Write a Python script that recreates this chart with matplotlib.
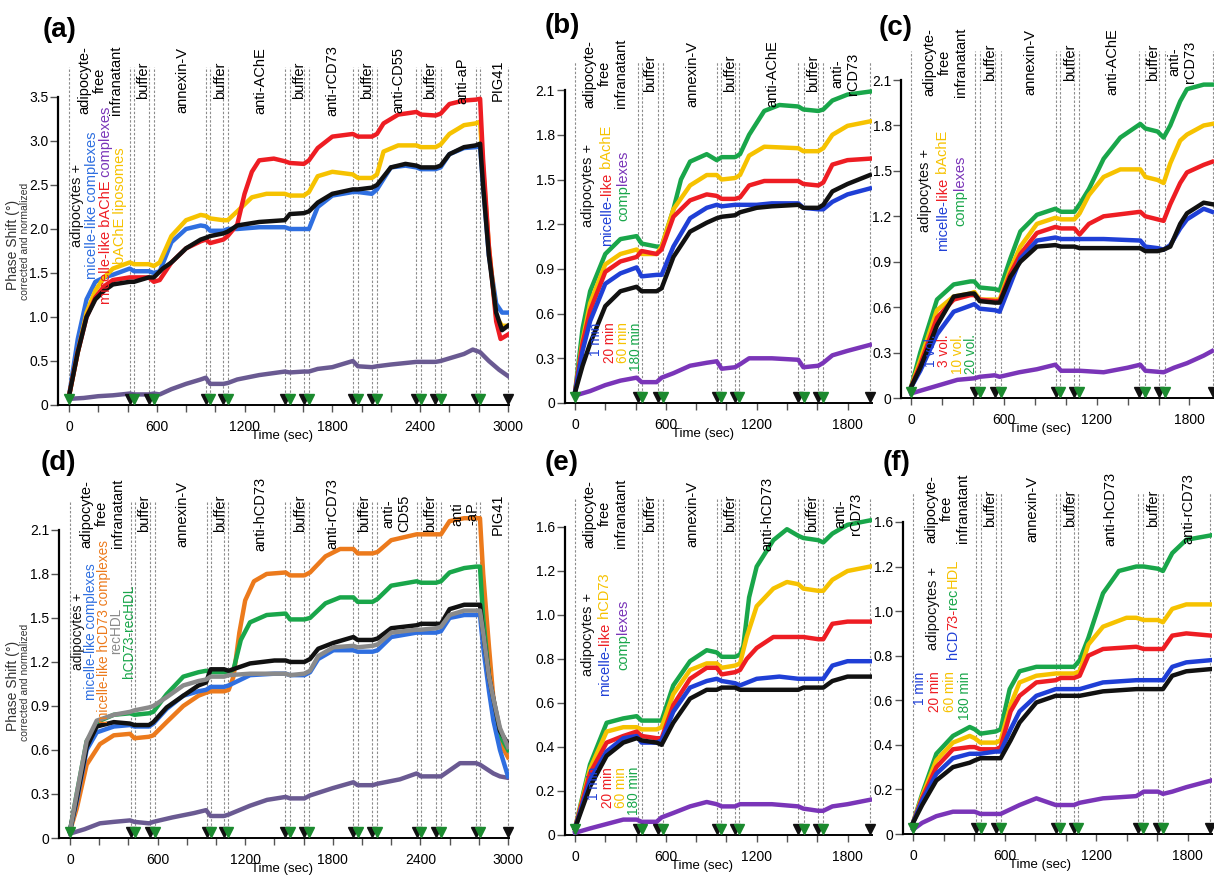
import matplotlib
matplotlib.use("Agg")
import matplotlib.pyplot as plt
from matplotlib.ticker import MultipleLocator
from matplotlib.transforms import offset_copy

plt.rcParams["font.family"] = ["Liberation Sans", "DejaVu Sans"]

# colours
BLACK = "#111111"
BLUE_A = "#2f6fe0"
BLUE = "#1f3fd6"
RED = "#ee1d23"
GOLD = "#f6c200"
GREEN = "#19a64a"
PURPLE_A = "#6a5a92"
PURPLE = "#7a35b8"
ORANGE = "#ec7a1c"
GRAY = "#8a8a8a"
TRI_GREEN = "#1b8a2e"

# injection times (s): black and green arrowheads
long_black = [415, 545, 935, 1055, 1475, 1605, 1940, 2070, 2375, 2505, 2780, 3000]
long_green = [0, 445, 580, 965, 1085, 1510, 1640, 1975, 2105, 2405, 2540, 2810]
short_black = [415, 545, 935, 1055, 1475, 1605, 1950]
short_green = [0, 445, 580, 965, 1085, 1510, 1640]

# y tick labels
ticks_05 = [0, 0.5, 1.0, 1.5, 2.0, 2.5, 3.0, 3.5]
labels_05 = ["0", "0.5", "1.0", "1.5", "2.0", "2.5", "3.0", "3.5"]
ticks_03 = [0, 0.3, 0.6, 0.9, 1.2, 1.5, 1.8, 2.1]
labels_03 = ["0", "0.3", "0.6", "0.9", "1.2", "1.5", "1.8", "2.1"]
ticks_02 = [0, 0.2, 0.4, 0.6, 0.8, 1.0, 1.2, 1.4]
labels_02 = ["0", "0.2", "0.4", "0.6", "0.8", "1.0", "1.2", "1.6"]

# ---- panel (a) ----
a_blue = [(0, 0.10), (60, 0.75), (120, 1.20), (180, 1.40), (240, 1.45), (300, 1.48), (415, 1.55), (445, 1.52),
          (545, 1.52), (580, 1.50), (620, 1.52), (700, 1.85), (800, 2.00), (900, 2.04), (935, 2.03), (965, 1.98),
          (1055, 1.98), (1085, 2.00), (1150, 2.00), (1300, 2.02), (1475, 2.02), (1510, 2.00), (1605, 2.00),
          (1640, 2.00), (1700, 2.25), (1800, 2.38), (1940, 2.42), (1975, 2.42), (2070, 2.40), (2105, 2.45),
          (2200, 2.70), (2300, 2.72), (2375, 2.70), (2405, 2.68), (2505, 2.68), (2540, 2.70), (2600, 2.85),
          (2700, 2.92), (2780, 2.93), (2810, 2.94), (2830, 2.50), (2870, 1.70), (2920, 1.15), (2960, 1.05),
          (3000, 1.05)]
a_gold = [(0, 0.10), (60, 0.60), (120, 1.05), (180, 1.30), (240, 1.45), (300, 1.55), (415, 1.62), (445, 1.60),
          (545, 1.60), (580, 1.58), (620, 1.62), (700, 1.92), (800, 2.10), (900, 2.16), (935, 2.15), (965, 2.12),
          (1055, 2.10), (1085, 2.10), (1150, 2.20), (1250, 2.36), (1350, 2.40), (1475, 2.40), (1510, 2.38),
          (1605, 2.38), (1640, 2.42), (1700, 2.60), (1800, 2.65), (1940, 2.62), (1975, 2.58), (2070, 2.58),
          (2105, 2.62), (2150, 2.88), (2250, 2.95), (2375, 2.95), (2405, 2.93), (2505, 2.93), (2540, 2.96),
          (2600, 3.08), (2700, 3.18), (2780, 3.20), (2810, 3.22), (2830, 2.70), (2870, 1.80), (2920, 1.00),
          (2960, 0.90), (3000, 0.90)]
a_red = [(0, 0.10), (60, 0.60), (120, 1.00), (180, 1.22), (240, 1.35), (300, 1.42), (415, 1.45), (445, 1.45),
         (545, 1.45), (580, 1.40), (620, 1.42), (700, 1.62), (800, 1.78), (900, 1.86), (935, 1.88), (965, 1.84),
         (1055, 1.88), (1085, 1.92), (1150, 2.05), (1200, 2.40), (1250, 2.65), (1300, 2.78), (1400, 2.80),
         (1475, 2.77), (1510, 2.75), (1605, 2.74), (1640, 2.78), (1700, 2.92), (1800, 3.05), (1940, 3.08),
         (1975, 3.05), (2070, 3.05), (2105, 3.08), (2150, 3.20), (2250, 3.30), (2375, 3.33), (2405, 3.30),
         (2505, 3.29), (2540, 3.31), (2600, 3.42), (2700, 3.46), (2780, 3.47), (2810, 3.48), (2830, 2.80),
         (2870, 1.80), (2920, 0.95), (2950, 0.75), (3000, 0.80)]
a_black = [(0, 0.10), (60, 0.60), (120, 1.00), (180, 1.20), (240, 1.30), (300, 1.37), (415, 1.40), (445, 1.40),
           (545, 1.45), (580, 1.45), (640, 1.55), (700, 1.62), (800, 1.78), (900, 1.88), (935, 1.90), (965, 1.92),
           (1055, 1.95), (1085, 1.97), (1150, 2.04), (1300, 2.08), (1475, 2.10), (1510, 2.17), (1605, 2.18),
           (1640, 2.20), (1700, 2.30), (1800, 2.40), (1940, 2.45), (1975, 2.45), (2070, 2.47), (2105, 2.50),
           (2200, 2.70), (2300, 2.74), (2375, 2.72), (2405, 2.70), (2505, 2.70), (2540, 2.72), (2600, 2.85),
           (2700, 2.93), (2780, 2.95), (2810, 2.97), (2830, 2.50), (2870, 1.70), (2920, 1.05), (2960, 0.85),
           (3000, 0.90)]
a_purple = [(0, 0.07), (100, 0.08), (200, 0.10), (300, 0.11), (415, 0.13), (445, 0.12), (545, 0.12), (580, 0.13),
            (620, 0.12), (700, 0.18), (800, 0.24), (900, 0.29), (935, 0.31), (965, 0.24), (1055, 0.24),
            (1085, 0.25), (1150, 0.29), (1300, 0.34), (1475, 0.38), (1510, 0.37), (1605, 0.38), (1640, 0.38),
            (1700, 0.41), (1800, 0.43), (1940, 0.50), (1975, 0.44), (2070, 0.43), (2105, 0.44), (2200, 0.46),
            (2375, 0.49), (2405, 0.49), (2505, 0.49), (2540, 0.50), (2600, 0.53), (2700, 0.58), (2760, 0.63),
            (2810, 0.60), (2870, 0.50), (2940, 0.40), (3000, 0.33)]

# ---- panel (b) ----
b_black = [(0, 0.07), (50, 0.25), (100, 0.40), (200, 0.65), (300, 0.75), (407, 0.78), (440, 0.75), (539, 0.75),
           (572, 0.77), (650, 0.98), (760, 1.15), (870, 1.21), (936, 1.24), (969, 1.25), (1057, 1.26),
           (1090, 1.28), (1200, 1.31), (1300, 1.32), (1475, 1.33), (1508, 1.31), (1607, 1.31), (1640, 1.33),
           (1700, 1.42), (1800, 1.47), (1948, 1.53)]
b_blue = [(0, 0.07), (50, 0.35), (100, 0.55), (200, 0.80), (300, 0.87), (407, 0.91), (440, 0.85), (539, 0.86),
          (572, 0.86), (650, 1.05), (760, 1.24), (870, 1.31), (936, 1.33), (969, 1.32), (1057, 1.33),
          (1090, 1.33), (1200, 1.33), (1300, 1.34), (1475, 1.34), (1508, 1.31), (1607, 1.30), (1640, 1.30),
          (1700, 1.35), (1800, 1.40), (1948, 1.44)]
b_red = [(0, 0.07), (50, 0.40), (100, 0.62), (200, 0.88), (300, 0.95), (407, 0.98), (440, 1.02), (539, 1.00),
         (572, 1.03), (650, 1.25), (760, 1.36), (870, 1.40), (936, 1.39), (969, 1.37), (1057, 1.37), (1090, 1.38),
         (1150, 1.46), (1250, 1.49), (1475, 1.49), (1508, 1.47), (1607, 1.46), (1640, 1.48), (1700, 1.60),
         (1800, 1.63), (1948, 1.64)]
b_gold = [(0, 0.07), (50, 0.42), (100, 0.67), (200, 0.93), (300, 1.00), (407, 1.03), (440, 1.00), (539, 1.00),
          (572, 1.05), (650, 1.30), (760, 1.46), (870, 1.53), (936, 1.53), (969, 1.50), (1057, 1.51),
          (1090, 1.53), (1150, 1.66), (1250, 1.72), (1475, 1.71), (1508, 1.69), (1607, 1.69), (1640, 1.71),
          (1700, 1.80), (1800, 1.86), (1948, 1.89)]
b_green = [(0, 0.07), (50, 0.50), (100, 0.75), (200, 1.00), (300, 1.10), (407, 1.12), (440, 1.07), (539, 1.05),
           (572, 1.05), (650, 1.30), (700, 1.50), (760, 1.62), (870, 1.67), (936, 1.63), (969, 1.65),
           (1057, 1.65), (1090, 1.67), (1150, 1.80), (1250, 1.96), (1350, 2.00), (1475, 1.99), (1508, 1.97),
           (1607, 1.96), (1640, 1.97), (1700, 2.03), (1800, 2.07), (1948, 2.09)]
b_purple = [(0, 0.05), (100, 0.08), (200, 0.12), (300, 0.15), (407, 0.17), (440, 0.14), (539, 0.14), (572, 0.17),
            (650, 0.20), (760, 0.25), (870, 0.27), (936, 0.28), (969, 0.23), (1057, 0.24), (1090, 0.26),
            (1150, 0.30), (1300, 0.30), (1475, 0.29), (1508, 0.24), (1607, 0.25), (1640, 0.27), (1700, 0.32),
            (1800, 0.35), (1948, 0.39)]

# ---- panel (c) ----
c_black = [(0, 0.07), (60, 0.20), (168, 0.48), (276, 0.67), (384, 0.69), (409, 0.69), (444, 0.64), (541, 0.63),
           (573, 0.63), (642, 0.80), (707, 0.90), (814, 1.00), (933, 1.01), (970, 1.00), (1056, 1.00),
           (1090, 0.99), (1245, 0.99), (1482, 0.99), (1515, 0.97), (1594, 0.97), (1633, 0.98), (1676, 1.00),
           (1740, 1.15), (1784, 1.22), (1892, 1.29), (1946, 1.28)]
c_blue = [(0, 0.07), (60, 0.18), (168, 0.42), (276, 0.57), (384, 0.61), (409, 0.62), (444, 0.59), (541, 0.58),
          (573, 0.57), (642, 0.75), (707, 0.92), (814, 1.04), (933, 1.06), (970, 1.05), (1056, 1.05),
          (1090, 1.05), (1245, 1.05), (1482, 1.04), (1515, 1.00), (1594, 0.99), (1633, 0.98), (1676, 1.01),
          (1740, 1.12), (1784, 1.18), (1892, 1.25), (1946, 1.23)]
c_red = [(0, 0.07), (60, 0.22), (168, 0.53), (276, 0.65), (384, 0.68), (409, 0.68), (444, 0.65), (541, 0.64),
         (573, 0.64), (642, 0.82), (707, 0.95), (814, 1.09), (933, 1.13), (970, 1.12), (1056, 1.12), (1090, 1.08),
         (1150, 1.15), (1245, 1.20), (1482, 1.23), (1515, 1.20), (1594, 1.18), (1633, 1.17), (1676, 1.28),
         (1740, 1.42), (1784, 1.49), (1892, 1.54), (1946, 1.56)]
c_gold = [(0, 0.07), (60, 0.25), (168, 0.58), (276, 0.67), (384, 0.69), (409, 0.70), (444, 0.65), (541, 0.65),
          (573, 0.65), (642, 0.85), (707, 1.00), (814, 1.15), (933, 1.19), (970, 1.18), (1056, 1.18),
          (1090, 1.22), (1150, 1.34), (1245, 1.46), (1353, 1.51), (1482, 1.51), (1515, 1.46), (1594, 1.44),
          (1633, 1.42), (1676, 1.55), (1740, 1.70), (1784, 1.74), (1892, 1.80), (1946, 1.81)]
c_green = [(0, 0.07), (60, 0.30), (168, 0.65), (276, 0.75), (384, 0.77), (409, 0.77), (444, 0.73), (541, 0.72),
           (573, 0.71), (642, 0.92), (707, 1.10), (814, 1.21), (933, 1.25), (970, 1.23), (1056, 1.23),
           (1090, 1.28), (1150, 1.38), (1245, 1.58), (1353, 1.72), (1482, 1.81), (1515, 1.78), (1594, 1.76),
           (1633, 1.72), (1676, 1.80), (1740, 1.96), (1784, 2.04), (1892, 2.07), (1946, 2.07)]
c_purple = [(0, 0.03), (100, 0.06), (200, 0.09), (300, 0.12), (409, 0.13), (444, 0.14), (541, 0.15), (573, 0.14),
            (700, 0.17), (814, 0.19), (933, 0.22), (970, 0.18), (1056, 0.18), (1090, 0.18), (1245, 0.17),
            (1400, 0.20), (1482, 0.22), (1515, 0.18), (1633, 0.17), (1700, 0.20), (1784, 0.23), (1892, 0.28),
            (1946, 0.31)]

# ---- panel (d) ----
d_black = [(0, 0.05), (46, 0.27), (114, 0.62), (183, 0.76), (300, 0.79), (411, 0.78), (441, 0.77), (541, 0.77),
           (571, 0.79), (662, 0.89), (776, 0.97), (880, 1.04), (932, 1.06), (963, 1.15), (1055, 1.15),
           (1087, 1.14), (1233, 1.19), (1400, 1.21), (1477, 1.21), (1507, 1.20), (1605, 1.20), (1644, 1.22),
           (1700, 1.29), (1804, 1.33), (1941, 1.37), (1970, 1.35), (2073, 1.35), (2107, 1.36), (2200, 1.43),
           (2374, 1.45), (2404, 1.46), (2507, 1.46), (2541, 1.46), (2600, 1.56), (2700, 1.59), (2781, 1.59),
           (2808, 1.59), (2830, 1.40), (2870, 1.10), (2900, 0.95), (2945, 0.73), (3000, 0.64)]
d_gray = [(0, 0.05), (46, 0.30), (114, 0.66), (183, 0.80), (300, 0.84), (411, 0.86), (441, 0.87), (541, 0.89),
          (571, 0.90), (662, 0.96), (776, 1.04), (880, 1.07), (932, 1.08), (963, 1.10), (1055, 1.10),
          (1087, 1.11), (1233, 1.12), (1400, 1.12), (1477, 1.12), (1507, 1.11), (1605, 1.12), (1644, 1.14),
          (1700, 1.24), (1804, 1.30), (1941, 1.31), (1970, 1.30), (2073, 1.31), (2107, 1.32), (2200, 1.40),
          (2374, 1.42), (2404, 1.42), (2507, 1.43), (2541, 1.44), (2600, 1.52), (2700, 1.55), (2781, 1.55),
          (2808, 1.55), (2830, 1.40), (2870, 1.10), (2900, 0.95), (2945, 0.75), (3000, 0.62)]
d_blue = [(0, 0.05), (46, 0.25), (114, 0.60), (183, 0.72), (300, 0.76), (411, 0.77), (441, 0.76), (541, 0.76),
          (571, 0.78), (662, 0.88), (776, 0.97), (880, 1.00), (932, 1.01), (963, 1.03), (1055, 1.03),
          (1087, 1.04), (1233, 1.11), (1400, 1.12), (1477, 1.12), (1507, 1.11), (1605, 1.11), (1644, 1.13),
          (1700, 1.22), (1804, 1.28), (1941, 1.28), (1970, 1.27), (2073, 1.27), (2107, 1.28), (2200, 1.37),
          (2374, 1.40), (2404, 1.40), (2507, 1.40), (2541, 1.41), (2600, 1.50), (2700, 1.52), (2781, 1.52),
          (2808, 1.52), (2830, 1.30), (2870, 1.00), (2900, 0.80), (2945, 0.60), (3000, 0.42)]
d_orange = [(0, 0.05), (46, 0.20), (114, 0.50), (205, 0.64), (300, 0.70), (411, 0.71), (441, 0.68), (541, 0.69),
            (571, 0.70), (662, 0.79), (776, 0.90), (880, 0.97), (932, 0.99), (963, 1.00), (1055, 1.00),
            (1087, 1.01), (1120, 1.10), (1160, 1.40), (1200, 1.62), (1260, 1.75), (1347, 1.80), (1477, 1.81),
            (1507, 1.79), (1605, 1.79), (1644, 1.81), (1750, 1.92), (1850, 1.97), (1941, 1.97), (1970, 1.94),
            (2073, 1.94), (2107, 1.95), (2200, 2.03), (2374, 2.07), (2404, 2.07), (2507, 2.07), (2541, 2.07),
            (2600, 2.16), (2700, 2.18), (2781, 2.18), (2808, 2.18), (2830, 1.80), (2870, 1.30), (2900, 0.95),
            (2945, 0.65), (3000, 0.55)]
d_green = [(0, 0.05), (46, 0.30), (114, 0.66), (205, 0.80), (300, 0.84), (411, 0.85), (441, 0.84), (541, 0.85),
           (571, 0.86), (662, 0.98), (776, 1.10), (880, 1.13), (932, 1.14), (963, 1.13), (1055, 1.13),
           (1087, 1.13), (1120, 1.15), (1170, 1.35), (1233, 1.47), (1347, 1.52), (1477, 1.53), (1507, 1.49),
           (1605, 1.49), (1644, 1.50), (1750, 1.60), (1850, 1.64), (1941, 1.64), (1970, 1.61), (2073, 1.61),
           (2107, 1.63), (2200, 1.72), (2374, 1.75), (2404, 1.74), (2507, 1.74), (2541, 1.75), (2600, 1.81),
           (2700, 1.84), (2781, 1.85), (2808, 1.85), (2830, 1.50), (2870, 1.10), (2900, 0.90), (2945, 0.70),
           (3000, 0.60)]
d_purple = [(0, 0.03), (100, 0.06), (205, 0.10), (300, 0.11), (411, 0.12), (441, 0.11), (541, 0.10), (571, 0.11),
            (700, 0.14), (850, 0.17), (932, 0.19), (963, 0.15), (1055, 0.15), (1087, 0.16), (1233, 0.22),
            (1350, 0.26), (1477, 0.28), (1507, 0.27), (1605, 0.27), (1644, 0.29), (1800, 0.34), (1941, 0.38),
            (1970, 0.36), (2073, 0.36), (2107, 0.37), (2260, 0.40), (2374, 0.44), (2404, 0.42), (2507, 0.42),
            (2541, 0.42), (2671, 0.51), (2781, 0.51), (2808, 0.50), (2900, 0.44), (2945, 0.42), (3000, 0.41)]

# ---- panel (e) ----
e_black = [(0, 0.03), (99, 0.22), (209, 0.36), (319, 0.42), (407, 0.44), (440, 0.43), (539, 0.42), (572, 0.41),
           (649, 0.51), (760, 0.62), (870, 0.66), (936, 0.66), (969, 0.67), (1057, 0.67), (1090, 0.66),
           (1300, 0.66), (1475, 0.66), (1508, 0.67), (1607, 0.67), (1640, 0.67), (1700, 0.70), (1800, 0.72),
           (1948, 0.72)]
e_blue = [(0, 0.03), (99, 0.25), (209, 0.38), (319, 0.44), (407, 0.45), (440, 0.42), (539, 0.42), (572, 0.43),
          (649, 0.56), (760, 0.67), (870, 0.70), (936, 0.71), (969, 0.70), (1057, 0.69), (1090, 0.68),
          (1200, 0.71), (1350, 0.72), (1475, 0.71), (1508, 0.71), (1607, 0.71), (1640, 0.71), (1700, 0.77),
          (1800, 0.79), (1948, 0.79)]
e_red = [(0, 0.03), (99, 0.28), (209, 0.42), (319, 0.45), (407, 0.47), (440, 0.45), (539, 0.44), (572, 0.44),
         (649, 0.59), (760, 0.71), (870, 0.76), (936, 0.76), (969, 0.73), (1057, 0.74), (1090, 0.75), (1134, 0.80),
         (1200, 0.85), (1310, 0.90), (1475, 0.90), (1508, 0.90), (1607, 0.89), (1640, 0.89), (1700, 0.96),
         (1800, 0.97), (1948, 0.97)]
e_gold = [(0, 0.03), (99, 0.30), (209, 0.47), (319, 0.49), (407, 0.49), (440, 0.48), (539, 0.48), (572, 0.49),
          (649, 0.64), (760, 0.75), (870, 0.78), (936, 0.78), (969, 0.76), (1057, 0.77), (1090, 0.78),
          (1134, 0.90), (1200, 1.04), (1310, 1.12), (1400, 1.15), (1475, 1.14), (1508, 1.12), (1607, 1.11),
          (1640, 1.11), (1700, 1.16), (1800, 1.20), (1948, 1.22)]
e_green = [(0, 0.03), (99, 0.32), (209, 0.51), (319, 0.53), (407, 0.54), (440, 0.52), (539, 0.52), (572, 0.52),
           (649, 0.68), (760, 0.79), (870, 0.84), (936, 0.83), (969, 0.81), (1057, 0.81), (1090, 0.82),
           (1112, 0.86), (1150, 1.08), (1200, 1.22), (1310, 1.34), (1400, 1.39), (1475, 1.36), (1508, 1.35),
           (1607, 1.34), (1640, 1.33), (1700, 1.37), (1800, 1.41), (1948, 1.43)]
e_purple = [(0, 0.01), (100, 0.03), (209, 0.05), (319, 0.07), (407, 0.07), (440, 0.06), (539, 0.06), (572, 0.08),
            (649, 0.10), (760, 0.13), (870, 0.15), (936, 0.14), (969, 0.13), (1057, 0.13), (1090, 0.14),
            (1300, 0.14), (1475, 0.13), (1508, 0.12), (1607, 0.11), (1640, 0.11), (1700, 0.13), (1800, 0.14),
            (1948, 0.16)]

# ---- panel (f) ----
f_black = [(0, 0.05), (60, 0.13), (153, 0.24), (262, 0.30), (372, 0.32), (404, 0.33), (442, 0.34), (542, 0.34),
           (575, 0.34), (640, 0.42), (699, 0.50), (809, 0.59), (936, 0.62), (968, 0.62), (1056, 0.62),
           (1093, 0.62), (1246, 0.64), (1464, 0.65), (1513, 0.65), (1607, 0.65), (1639, 0.65), (1700, 0.71),
           (1792, 0.73), (1956, 0.74)]
f_blue = [(0, 0.05), (60, 0.15), (153, 0.27), (262, 0.34), (372, 0.36), (404, 0.36), (442, 0.36), (542, 0.37),
          (575, 0.37), (640, 0.47), (699, 0.55), (809, 0.62), (936, 0.65), (968, 0.65), (1056, 0.65),
          (1093, 0.65), (1246, 0.68), (1464, 0.69), (1513, 0.69), (1607, 0.69), (1639, 0.69), (1700, 0.75),
          (1792, 0.77), (1956, 0.78)]
f_red = [(0, 0.05), (60, 0.16), (153, 0.30), (262, 0.38), (372, 0.39), (404, 0.39), (442, 0.38), (542, 0.38),
         (575, 0.39), (640, 0.55), (699, 0.62), (809, 0.68), (936, 0.69), (968, 0.70), (1056, 0.70), (1093, 0.71),
         (1150, 0.80), (1246, 0.83), (1464, 0.84), (1513, 0.83), (1607, 0.83), (1639, 0.83), (1700, 0.89),
         (1792, 0.90), (1956, 0.89)]
f_gold = [(0, 0.05), (60, 0.17), (153, 0.33), (262, 0.41), (372, 0.44), (404, 0.43), (442, 0.41), (542, 0.41),
          (575, 0.42), (640, 0.58), (699, 0.68), (809, 0.71), (936, 0.72), (968, 0.72), (1056, 0.72),
          (1093, 0.73), (1150, 0.85), (1246, 0.93), (1400, 0.97), (1464, 0.97), (1513, 0.96), (1607, 0.96),
          (1639, 0.95), (1700, 1.01), (1792, 1.03), (1956, 1.03)]
f_green = [(0, 0.05), (60, 0.18), (153, 0.36), (262, 0.44), (372, 0.48), (404, 0.47), (442, 0.45), (542, 0.46),
           (575, 0.47), (634, 0.65), (699, 0.73), (809, 0.75), (936, 0.75), (968, 0.75), (1056, 0.75),
           (1093, 0.78), (1150, 0.88), (1246, 1.08), (1350, 1.18), (1464, 1.20), (1513, 1.20), (1607, 1.19),
           (1639, 1.18), (1700, 1.26), (1792, 1.32), (1956, 1.34)]
f_purple = [(0, 0.02), (60, 0.05), (153, 0.08), (262, 0.10), (372, 0.10), (404, 0.10), (442, 0.09), (542, 0.09),
            (575, 0.09), (699, 0.13), (809, 0.16), (936, 0.13), (968, 0.13), (1056, 0.13), (1093, 0.14),
            (1246, 0.16), (1464, 0.17), (1513, 0.19), (1607, 0.19), (1639, 0.18), (1700, 0.19), (1792, 0.21),
            (1956, 0.24)]

# top labels (text, time)
BLOCK = "adipocyte-\nfree\ninfranatant"
notes_a = [(BLOCK, 212), ("buffer", 506), ("annexin-V", 772), ("buffer", 1030), ("anti-AChE", 1305),
           ("buffer", 1575), ("anti-rCD73", 1798), ("buffer", 2035), ("anti-CD55", 2250), ("buffer", 2468),
           ("anti-aP", 2690), ("PIG41", 2932)]
notes_b = [(BLOCK, 200), ("buffer", 495), ("annexin-V", 773), ("buffer", 1025), ("anti-AChE", 1305),
           ("buffer", 1570), ("anti-\nrCD73", 1783)]
notes_c = [(BLOCK, 220), ("buffer", 511), ("annexin-V", 769), ("buffer", 1028), ("anti-AChE", 1299),
           ("buffer", 1565), ("anti-\nrCD73", 1752)]
notes_d = [(BLOCK, 219), ("buffer", 506), ("annexin-V", 772), ("buffer", 1027), ("anti-hCD73", 1305),
           ("buffer", 1579), ("anti-rCD73", 1798), ("buffer", 2015), ("anti-\nCD55", 2235), ("buffer", 2468),
           ("anti\n-aP", 2705), ("PIG41", 2932)]
notes_e = [(BLOCK, 200), ("buffer", 495), ("annexin-V", 773), ("buffer", 1024), ("anti-hCD73", 1268),
           ("buffer", 1566), ("anti-\nrCD73", 1803)]
notes_f = [(BLOCK, 223), ("buffer", 505), ("annexin-V", 780), ("buffer", 1029), ("anti-hCD73", 1292),
           ("buffer", 1574), ("anti-rCD73", 1803)]

W, H = 1214, 875
NOTE_FS = 10.5
LEG_FS = 10.5
TIME_FS = 9.8

fig = plt.figure(figsize=(W / 100, H / 100), dpi=100)
renderer = fig.canvas.get_renderer()


def make_axes(x0, kx, y0, ky, xlim, ylim):
    # x0/y0: pixel position of data origin, kx/ky: pixels per data unit
    left = (x0 + xlim[0] * kx) / W
    width = (xlim[1] - xlim[0]) * kx / W
    bottom = (H - y0 + ylim[0] * ky) / H
    height = (ylim[1] - ylim[0]) * ky / H
    ax = fig.add_axes([left, bottom, width, height])
    ax.set_xlim(xlim)
    ax.set_ylim(ylim)
    ax.patch.set_alpha(0)
    return ax


def color_column(ax, x, y, parts, va="center", fs=LEG_FS):
    # vertical text made of coloured pieces, read bottom to top
    full = "".join(s for s, _ in parts)
    probe = ax.text(x, y, full, rotation=90, fontsize=fs, ha="center", va=va)
    bb = probe.get_window_extent(renderer=renderer)
    probe.remove()
    prev = None
    for s, c in parts:
        if prev is None:
            prev = ax.annotate(s, xy=((bb.x0 + bb.x1) / 2, bb.y0), xycoords="figure pixels", rotation=90,
                               ha="center", va="bottom", fontsize=fs, color=c, zorder=6)
        else:
            prev = ax.annotate(s, xy=(0.5, 1), xycoords=prev, rotation=90, ha="center", va="bottom",
                               fontsize=fs, color=c, zorder=6)


def draw_panel(ax, series, black_t, green_t, yticks, ylabels, line_top, note_y, notes, time_x):
    ax.vlines(sorted(black_t + green_t), 0, line_top, colors="#8c8c8c", linestyles=(0, (2.2, 1.6)),
              lw=0.8, zorder=1, clip_on=False)
    for pts, color in series:
        t = [p[0] for p in pts]
        v = [p[1] for p in pts]
        ax.plot(t, v, color=color, lw=3.2, solid_joinstyle="round", zorder=3)

    tr = offset_copy(ax.get_xaxis_transform(), fig=fig, x=0, y=6, units="dots")
    ax.plot(black_t, [0] * len(black_t), "v", color=BLACK, ms=6.5, transform=tr, clip_on=False, zorder=5)
    ax.plot(green_t, [0] * len(green_t), "v", color=TRI_GREEN, ms=6.5, transform=tr, clip_on=False, zorder=5)

    for s, x in notes:
        ax.text(x, note_y, s, rotation=90, ha="center", va="center", multialignment="center",
                fontsize=NOTE_FS, linespacing=1.15, zorder=6)

    for side in ("top", "right"):
        ax.spines[side].set_visible(False)
    ax.spines["left"].set_bounds(0, yticks[-1])
    ax.spines["left"].set_linewidth(1.6)
    ax.spines["bottom"].set_linewidth(1.4)
    ax.set_yticks(yticks, ylabels)
    ax.xaxis.set_major_locator(MultipleLocator(600))
    ax.xaxis.set_minor_locator(MultipleLocator(200))
    ax.tick_params(axis="x", which="both", length=5, width=1, direction="out", pad=6, labelsize=10,
                   color="#555555")
    ax.tick_params(axis="y", length=6, width=1, direction="out", pad=1, labelsize=10, color="#555555")
    ax.annotate("Time (sec)", xy=(time_x, 0), xycoords=("data", "axes fraction"), xytext=(0, -31),
                textcoords="offset pixels", ha="center", va="center", fontsize=9.5)


# (a)
ax = make_axes(69, 0.1463, 405, 88, (-75, 3005), (0, 4.2))
draw_panel(ax, [(a_purple, PURPLE_A), (a_blue, BLUE_A), (a_gold, GOLD), (a_red, RED), (a_black, BLACK)],
           long_black, long_green, ticks_05, labels_05, 3.84, 3.69, notes_a, 1455)
color_column(ax, 55, 2.27, [("adipocytes +", BLACK)])
color_column(ax, 157, 2.27, [("micelle-like complexes", BLUE_A)])
color_column(ax, 253, 2.27, [("micelle-like bAChE", RED), (" complexes", PURPLE)])
color_column(ax, 349, 2.27, [("bAChE liposomes", GOLD)])

# (b)
ax = make_axes(575, 0.1514, 403, 149, (-68, 1960), (0, 2.5))
draw_panel(ax, [(b_purple, PURPLE), (b_green, GREEN), (b_gold, GOLD), (b_red, RED), (b_blue, BLUE),
                (b_black, BLACK)],
           short_black, short_green, ticks_03, labels_03, 2.29, 2.21, notes_b, 845)
color_column(ax, 86, 1.46, [("adipocytes +", BLACK)])
color_column(ax, 211, 1.46, [("micelle-", BLUE), ("like", RED), (" bAchE", GOLD)])
color_column(ax, 317, 1.46, [("comp", GREEN), ("lexes", PURPLE)])
for x, s, c in [(140, "1 min", BLUE), (228, "20 min", RED), (316, "60 min", GOLD), (404, "180 min", GREEN)]:
    color_column(ax, x, 0.54, [(s, c)], va="top", fs=TIME_FS)

# (c)
ax = make_axes(911, 0.1547, 398, 151.4, (-62, 1960), (0, 2.5))
draw_panel(ax, [(c_purple, PURPLE), (c_green, GREEN), (c_gold, GOLD), (c_red, RED), (c_blue, BLUE),
                (c_black, BLACK)],
           short_black, short_green, ticks_03, labels_03, 2.29, 2.22, notes_c, 834)
color_column(ax, 90, 1.37, [("adipocytes +", BLACK)])
color_column(ax, 207, 1.37, [("micelle-", BLUE), ("like", RED), (" bAchE", GOLD)])
color_column(ax, 317, 1.37, [("comp", GREEN), ("lexes", PURPLE)])
for x, s, c in [(130, "1 vol.", BLUE), (216, "3 vol.", RED), (302, "10 vol.", GOLD), (388, "20 vol.", GREEN)]:
    color_column(ax, x, 0.42, [(s, c)], va="top", fs=TIME_FS)

# (d)
ax = make_axes(70, 0.146, 838, 146.7, (-75, 3005), (0, 2.5))
draw_panel(ax, [(d_purple, PURPLE_A), (d_orange, ORANGE), (d_green, GREEN), (d_blue, BLUE_A), (d_black, BLACK),
                (d_gray, GRAY)],
           long_black, long_green, ticks_03, labels_03, 2.30, 2.21, notes_d, 1450)
for x, s, c in [(58, "adipocytes +", BLACK), (144, "micelle-like complexes", BLUE_A),
                (230, "micelle-like hCD73 complexes", ORANGE), (316, "recHDL", GRAY),
                (402, "hCD73-recHDL", GREEN)]:
    color_column(ax, x, 1.41, [(s, c)], fs=9.8)

# (e)
ax = make_axes(575, 0.1514, 835, 220, (-68, 1960), (0, 1.7))
draw_panel(ax, [(e_purple, PURPLE), (e_green, GREEN), (e_gold, GOLD), (e_red, RED), (e_blue, BLUE),
                (e_black, BLACK)],
           short_black, short_green, ticks_02, labels_02, 1.53, 1.46, notes_e, 838)
color_column(ax, 86, 0.91, [("adipocytes +", BLACK)])
color_column(ax, 198, 0.91, [("micelle-", BLUE), ("like", RED), (" hCD73", GOLD)])
color_column(ax, 317, 0.91, [("comp", GREEN), ("lexes", PURPLE)])
for x, s, c in [(128, "1 min", BLUE), (216, "20 min", RED), (304, "60 min", GOLD), (392, "180 min", GREEN)]:
    color_column(ax, x, 0.31, [(s, c)], va="top", fs=TIME_FS)

# (f)
ax = make_axes(913, 0.1525, 834, 222.9, (-68, 1960), (0, 1.7))
draw_panel(ax, [(f_purple, PURPLE), (f_green, GREEN), (f_gold, GOLD), (f_red, RED), (f_blue, BLUE),
                (f_black, BLACK)],
           short_black, short_green, ticks_02, labels_02, 1.53, 1.46, notes_f, 833)
color_column(ax, 131, 1.01, [("adipocytes +", BLACK)])
color_column(ax, 262, 1.01, [("hCD", BLUE), ("73-", RED), ("rec", GREEN), ("HDL", GOLD)])
for x, s, c in [(46, "1 min", BLUE), (144, "20 min", RED), (243, "60 min", GOLD), (341, "180 min", GREEN)]:
    color_column(ax, x, 0.73, [(s, c)], va="top", fs=TIME_FS)

# panel letters
for s, x, y in [("(a)", 60, 30), ("(b)", 562, 26), ("(c)", 896, 28),
                ("(d)", 58, 463), ("(e)", 562, 463), ("(f)", 897, 463)]:
    fig.text(x / W, 1 - y / H, s, fontsize=20, fontweight="bold", ha="center", va="center")

# y-axis titles
for y in (245, 686):
    fig.text(13 / W, 1 - y / H, "Phase Shift (°)", rotation=90, fontsize=10, color="#333333",
             ha="center", va="center")
    fig.text(25 / W, 1 - (y - 4) / H, "corrected and normalized", rotation=90, fontsize=7.5, color="#333333",
             ha="center", va="center")

fig.savefig("out.png", dpi=100)
